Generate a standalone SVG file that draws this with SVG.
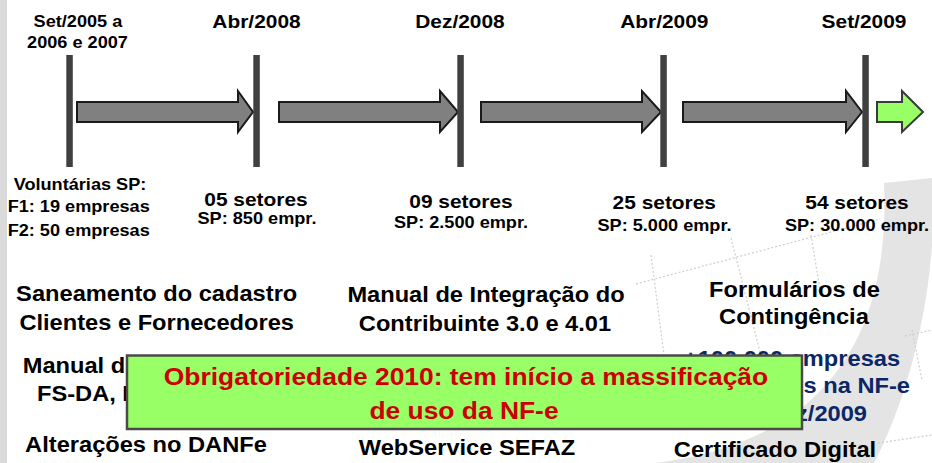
<svg xmlns="http://www.w3.org/2000/svg" width="932" height="463" viewBox="0 0 932 463">
<style>
text { font-family: "Liberation Sans", Arial, Helvetica, sans-serif; font-weight: bold; fill: #000; text-anchor: middle; transform-box: fill-box; transform-origin: center; transform: scaleX(1.1); }
.s { font-size: 16.5px; }
.m { font-size: 19px; }
.b { font-size: 21.5px; }
.x { font-size: 24px; fill: #cc0000; }
.blue { fill: #0b2766; }
.l { text-anchor: start; transform-origin: left center; }
.r { text-anchor: end; transform-origin: right center; }
.bar { fill: #404040; }
.arr { fill: #808080; stroke: #1a1a1a; stroke-width: 2; stroke-linejoin: miter; }
.garr { fill: #99ff66; stroke: #3a3a3a; stroke-width: 2; }
.grid { fill: none; stroke: #d0d0d0; stroke-width: 1.3; stroke-dasharray: 2 2; }
</style>

<g id="background">
  <rect x="0" y="0" width="932" height="463" fill="#ffffff"/>
  <rect x="0" y="0" width="7" height="463" fill="#dadada"/>
  <path d="M 884 183 L 932 178 L 932 245 C 926 330 902 410 874 463 L 655 463 C 840 440 890 320 884 183 Z" fill="#e4e4e4"/>
  <path class="grid" d="M 636 284 L 880 219"/>
  <path class="grid" d="M 651 255 L 664 355"/>
  <path class="grid" d="M 731 238 L 760 352"/>
  <path class="grid" d="M 811 235 L 820 290"/>
  <path class="grid" d="M 905 336 L 932 330"/>
  <path class="grid" d="M 912 330 L 922 380"/>
  <path class="grid" d="M 878 443 L 932 435"/>
</g>

<g id="connectors">
  <polygon class="arr" points="77,102 238,102 238,91 253,112 238,132 238,122 77,122"/>
  <polygon class="arr" points="279,102 440,102 440,91 458,112 440,132 440,122 279,122"/>
  <polygon class="arr" points="481,102 642,102 642,91 661,112 642,132 642,122 481,122"/>
  <polygon class="arr" points="683,102 846,102 846,91 862,112 846,132 846,122 683,122"/>
  <polygon class="garr" points="877,102 902,102 902,91 923,112 902,132 902,122 877,122"/>
</g>

<g id="m2005">
  <text class="s" x="78" y="27">Set/2005 a</text>
  <text class="s" x="77.5" y="48">2006 e 2007</text>
  <rect class="bar" x="66.3" y="55" width="6.5" height="112"/>
  <text class="s" x="80" y="190">Voluntárias SP:</text>
  <text class="s" x="78.7" y="212.5">F1: 19 empresas</text>
  <text class="s" x="78.7" y="236">F2: 50 empresas</text>
</g>

<g id="m2008abr">
  <text class="m" x="256.5" y="28">Abr/2008</text>
  <rect class="bar" x="253.3" y="55" width="6.5" height="112"/>
  <text class="m" x="256" y="206">05 setores</text>
  <text class="s" x="257" y="224">SP: 850 empr.</text>
</g>

<g id="m2008dez">
  <text class="m" x="460" y="28">Dez/2008</text>
  <rect class="bar" x="457.3" y="55" width="6.5" height="112"/>
  <text class="m" x="461" y="208">09 setores</text>
  <text class="s" x="461" y="228">SP: 2.500 empr.</text>
</g>

<g id="m2009abr">
  <text class="m" x="664.3" y="28">Abr/2009</text>
  <rect class="bar" x="660.3" y="55" width="6.5" height="112"/>
  <text class="m" x="664.3" y="209">25 setores</text>
  <text class="s" x="664.5" y="231">SP: 5.000 empr.</text>
</g>

<g id="m2009set">
  <text class="m" x="864" y="28">Set/2009</text>
  <rect class="bar" x="862.3" y="55" width="6.5" height="112"/>
  <text class="m" x="857" y="209">54 setores</text>
  <text class="s" x="857" y="231">SP: 30.000 empr.</text>
</g>

<g id="col1">
  <text class="b" x="156.7" y="301">Saneamento do cadastro</text>
  <text class="b" x="156.7" y="330">Clientes e Fornecedores</text>
  <text class="b l" x="22.7" y="373">Manual d</text>
  <text class="b l" x="37" y="401">FS-DA, I</text>
  <text class="b" x="146" y="452">Alterações no DANFe</text>
</g>

<g id="col2">
  <text class="b" x="486" y="302">Manual de Integração do</text>
  <text class="b" x="485" y="331">Contribuinte 3.0 e 4.01</text>
  <text class="b" x="467" y="455">WebService SEFAZ</text>
</g>

<g id="col3">
  <text class="b" x="794.5" y="297">Formulários de</text>
  <text class="b" x="794" y="324">Contingência</text>
  <text class="b blue" x="792" y="366">+100.000 empresas</text>
  <text class="b blue r" x="910" y="393">s na NF-e</text>
  <text class="b blue r" x="867" y="421.5">z/2009</text>
  <text class="b" x="775" y="457">Certificado Digital</text>
</g>

<g id="callout">
  <rect x="127" y="355.5" width="675" height="73.5" fill="#99ff66" stroke="#4a4a4a" stroke-width="2.5"/>
  <text class="x" x="466" y="385">Obrigatoriedade 2010: tem início a massificação</text>
  <text class="x" x="464" y="419">de uso da NF-e</text>
</g>
</svg>
